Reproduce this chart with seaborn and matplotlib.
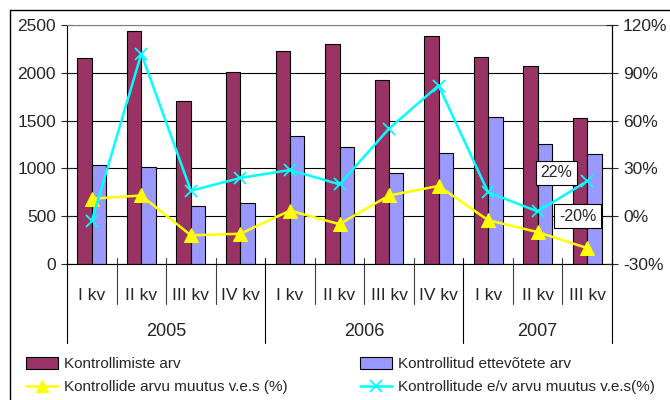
import numpy as np
import pandas as pd
import matplotlib
matplotlib.use("Agg")
import matplotlib.pyplot as plt
from matplotlib.lines import Line2D
from matplotlib.patches import Patch
import matplotlib.transforms as mtransforms
import seaborn as sns

# ---- data ----
quarters = ["I kv", "II kv", "III kv", "IV kv", "I kv", "II kv", "III kv", "IV kv", "I kv", "II kv", "III kv"]
years = ["2005", "2006", "2007"]
year_sizes = [4, 4, 3]
kontrollimiste_arv = [2150, 2435, 1710, 2010, 2230, 2305, 1920, 2385, 2165, 2070, 1525]
ettevotete_arv = [1040, 1010, 610, 635, 1335, 1220, 950, 1165, 1540, 1255, 1155]
kontrollide_muutus = [11, 13, -12, -11, 3.5, -5, 13, 19, -2.5, -10, -20]
ev_muutus = [-3, 102, 16, 24, 29, 20, 55, 82, 15, 3, 22]

bar_labels = ["Kontrollimiste arv", "Kontrollitud ettevõtete arv"]
line_labels = ["Kontrollide arvu muutus v.e.s (%)", "Kontrollitude e/v arvu muutus v.e.s(%)"]

maroon = "#993366"
periw = "#9999FF"
yellow = "#FFFF00"
cyan = "#00FFFF"

sns.set_theme(style="white")
plt.rcParams["font.family"] = ["Liberation Sans", "DejaVu Sans"]

fig = plt.figure(figsize=(6.7, 4.0), dpi=100)
W, H = 670, 400
L, R, T, B = 67, 612, 25, 264
ax = fig.add_axes([L / W, 1 - B / H, (R - L) / W, (B - T) / H])

n = len(quarters)
pos = np.arange(n)
df = pd.DataFrame({
    "pos": np.concatenate([pos, pos]),
    "value": kontrollimiste_arv + ettevotete_arv,
    "series": [bar_labels[0]] * n + [bar_labels[1]] * n,
})
sns.barplot(data=df, x="pos", y="value", hue="series", hue_order=bar_labels,
            palette=[maroon, periw], width=0.58, edgecolor="black", linewidth=0.8,
            saturation=1, ax=ax, legend=False)

ax.set_xlim(-0.5, n - 0.5)
ax.set_ylim(0, 2500)
ax.set_yticks(np.arange(0, 2501, 500))
ax.set_yticklabels([str(v) for v in range(0, 2501, 500)])
ax.set_axisbelow(True)
ax.yaxis.grid(True, color="black", linewidth=0.8)
ax.xaxis.grid(False)
ax.set_xticks([])
ax.set_xlabel("")
ax.set_ylabel("")
ax.tick_params(axis="y", direction="inout", length=8, width=0.8, labelsize=12.5, pad=4, left=True)
for s in ["left", "bottom", "right"]:
    ax.spines[s].set_color("black")
    ax.spines[s].set_linewidth(0.8)
ax.spines["top"].set_color("#808080")
ax.spines["top"].set_linewidth(0.8)

ax2 = ax.twinx()
sns.lineplot(x=pos, y=kontrollide_muutus, ax=ax2, color=yellow, linewidth=1.8,
             marker="^", markersize=10.5, markerfacecolor=yellow, markeredgecolor=yellow)
sns.lineplot(x=pos, y=ev_muutus, ax=ax2, color=cyan, linewidth=1.8,
             marker="x", markersize=9, markeredgewidth=1.3, markeredgecolor=cyan)
ax2.set_ylim(-30, 120)
ax2.set_yticks(np.arange(-30, 121, 30))
ax2.set_yticklabels([f"{v}%" for v in range(-30, 121, 30)])
ax2.tick_params(axis="y", direction="inout", length=8, width=0.8, labelsize=12.5, pad=4, right=True)
ax2.set_ylabel("")
ax2.set_xlim(-0.5, n - 0.5)
for s in ax2.spines.values():
    s.set_visible(False)
ax2.spines["right"].set_visible(True)
ax2.spines["right"].set_color("black")
ax2.spines["right"].set_linewidth(0.8)

# data labels for last points
bbox = dict(boxstyle="square,pad=0.3", fc="white", ec="black", lw=0.8)
ax2.annotate(f"{ev_muutus[-1]:.0f}%", xy=(pos[-1], ev_muutus[-1]), xytext=(-22, 6),
             textcoords="offset points", ha="center", va="center", fontsize=11.5, bbox=bbox)
ax2.annotate(f"{kontrollide_muutus[-1]:.0f}%", xy=(pos[-1], kontrollide_muutus[-1]), xytext=(-7, 23),
             textcoords="offset points", ha="center", va="center", fontsize=11.5, bbox=bbox)

# multi-level category axis
trans = mtransforms.blended_transform_factory(ax.transData, ax.transAxes)
ph = (B - T)
def ya(px):
    return (B - px) / ph

for i, q in enumerate(quarters):
    ax.text(i, ya(296), q, transform=trans, ha="center", va="center", fontsize=12.5)
starts = np.cumsum([0] + year_sizes[:-1])
for y, s0, sz in zip(years, starts, year_sizes):
    ax.text(s0 + (sz - 1) / 2, ya(331), y, transform=trans, ha="center", va="center", fontsize=13)
bounds = set(list(starts - 0.5) + [n - 0.5])
for k in range(n + 1):
    xk = k - 0.5
    if xk in bounds:
        ax.add_line(Line2D([xk, xk], [ya(258), ya(343)], transform=trans, color="black",
                           linewidth=0.8, clip_on=False))
    else:
        ax.add_line(Line2D([xk, xk], [ya(258), ya(304)], transform=trans, color="#404040",
                           linewidth=0.8, clip_on=False))

# legend
h1 = [Patch(facecolor=maroon, edgecolor="black", linewidth=0.8),
      Line2D([], [], color=yellow, linewidth=1.8, marker="^", markersize=9)]
h2 = [Patch(facecolor=periw, edgecolor="black", linewidth=0.8),
      Line2D([], [], color=cyan, linewidth=1.8, marker="x", markersize=8, markeredgewidth=1.3)]
lg1 = fig.legend(h1, [bar_labels[0], line_labels[0]], loc="upper left",
                 bbox_to_anchor=(26 / W, 1 - 357 / H), frameon=False, fontsize=11,
                 borderpad=0, borderaxespad=0, handlelength=2.1, handletextpad=0.4,
                 labelspacing=0.6, handleheight=0.8)
lg2 = fig.legend(h2, [bar_labels[1], line_labels[1]], loc="upper left",
                 bbox_to_anchor=(360 / W, 1 - 357 / H), frameon=False, fontsize=11,
                 borderpad=0, borderaxespad=0, handlelength=2.1, handletextpad=0.4,
                 labelspacing=0.6, handleheight=0.8)

# outer chart frame
fig.add_artist(Line2D([10 / W, 1.0], [1 - 10 / H, 1 - 10 / H], transform=fig.transFigure,
                      color="black", linewidth=1.0))
fig.add_artist(Line2D([10 / W, 10 / W], [0, 1 - 10 / H], transform=fig.transFigure,
                      color="black", linewidth=1.0))

fig.savefig("out.png", dpi=100)
